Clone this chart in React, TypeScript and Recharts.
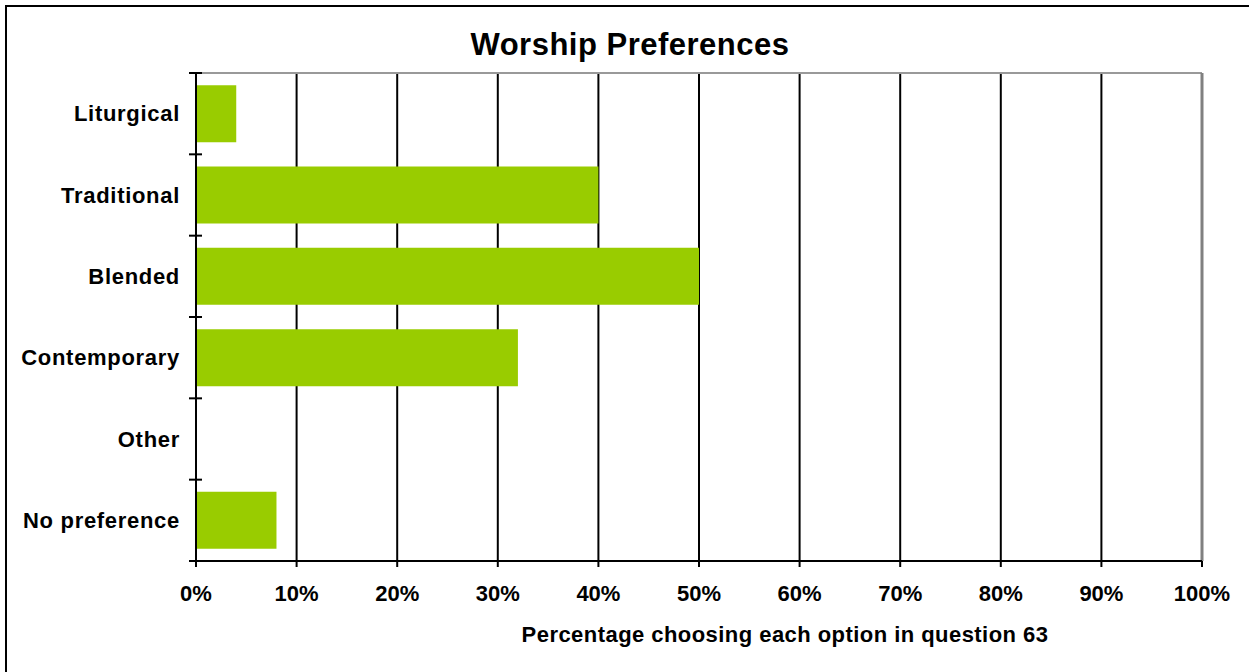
import React from 'react';
import { BarChart, Bar, XAxis, YAxis, CartesianGrid, ReferenceLine } from 'recharts';

// values (percent of respondents)
const categories = ['Liturgical', 'Traditional', 'Blended', 'Contemporary', 'Other', 'No preference'];
const percentages = [4, 40, 50, 32, 0, 8];
const xTicks = [0, 10, 20, 30, 40, 50, 60, 70, 80, 90, 100];

const chartTitle = 'Worship Preferences';
const xAxisTitle = 'Percentage choosing each option in question 63';

const data = categories.map((name, i) => ({ name, value: percentages[i] }));

const FONT = '"Liberation Sans", Arial, Helvetica, sans-serif';
const BAR_COLOR = '#99CC00';

// category label plus the small crossing ticks at the band boundaries
const CategoryTick = (props: any) => {
  const { x, y, payload, index, visibleTicksCount } = props;
  const axisX = x + 17;
  const half = payload && payload.offset ? payload.offset : 0;
  const isLast = index === (visibleTicksCount ?? categories.length) - 1;
  return (
    <g>
      {half > 0 && (
        <line x1={axisX - 7} x2={axisX + 6} y1={y - half} y2={y - half} stroke="#000" strokeWidth={2} />
      )}
      {half > 0 && isLast && (
        <line x1={axisX - 7} x2={axisX + 6} y1={y + half} y2={y + half} stroke="#000" strokeWidth={2} />
      )}
      <text
        x={x + 1}
        y={y}
        dy="0.355em"
        textAnchor="end"
        fill="#000"
        fontFamily={FONT}
        fontSize={22}
        fontWeight="bold"
        letterSpacing={0.7}
      >
        {payload.value}
      </text>
    </g>
  );
};

const XTitle = (props: any) => {
  const vb = props.viewBox || { x: 196, y: 561, width: 1006 };
  return (
    <text
      x={vb.x + vb.width / 2 + 86}
      y={vb.y + 81}
      textAnchor="middle"
      fill="#000"
      fontFamily={FONT}
      fontSize={22}
      fontWeight="bold"
      letterSpacing={0.45}
    >
      {xAxisTitle}
    </text>
  );
};

export default function App() {
  return (
    <div
      style={{
        position: 'absolute',
        left: 0,
        top: 0,
        width: 1249,
        height: 672,
        overflow: 'hidden',
        background: '#fff',
      }}
    >
      <div
        style={{
          position: 'absolute',
          left: 5,
          top: 5,
          width: 1300,
          height: 700,
          borderLeft: '2px solid #000',
          borderTop: '2px solid #000',
        }}
      />
      <div
        style={{
          position: 'absolute',
          left: 0,
          top: 29,
          width: 1260,
          textAlign: 'center',
          fontFamily: FONT,
          fontWeight: 'bold',
          fontSize: 31,
          lineHeight: '31px',
          letterSpacing: 0.5,
          color: '#000',
        }}
      >
        {chartTitle}
      </div>
      <div style={{ position: 'absolute', left: 0, top: 0 }}>
        <BarChart
          width={1249}
          height={672}
          data={data}
          layout="vertical"
          margin={{ top: 73, right: 47, bottom: 21, left: 0 }}
          barCategoryGap="15%"
        >
          <CartesianGrid horizontal={false} stroke="#000" strokeWidth={2} />
          <CartesianGrid
            vertical={false}
            stroke="#999"
            strokeWidth={2}
            horizontalCoordinatesGenerator={({ offset }: any) => [offset.top]}
          />
          <Bar dataKey="value" fill={BAR_COLOR} isAnimationActive={false} />
          <ReferenceLine x={100} stroke="#808080" strokeWidth={3} />
          <XAxis
            type="number"
            domain={[0, 100]}
            ticks={xTicks}
            tickFormatter={(v: number) => `${v}%`}
            interval={0}
            height={90}
            stroke="#000"
            strokeWidth={2}
            tickSize={6}
            tickMargin={18}
            tick={{ fill: '#000', fontSize: 22, fontWeight: 'bold', fontFamily: FONT }}
            label={<XTitle />}
          />
          <YAxis
            type="category"
            dataKey="name"
            width={196}
            stroke="#000"
            strokeWidth={2}
            tickLine={false}
            tickSize={6}
            tickMargin={11}
            interval={0}
            tick={<CategoryTick />}
          />
        </BarChart>
      </div>
    </div>
  );
}
